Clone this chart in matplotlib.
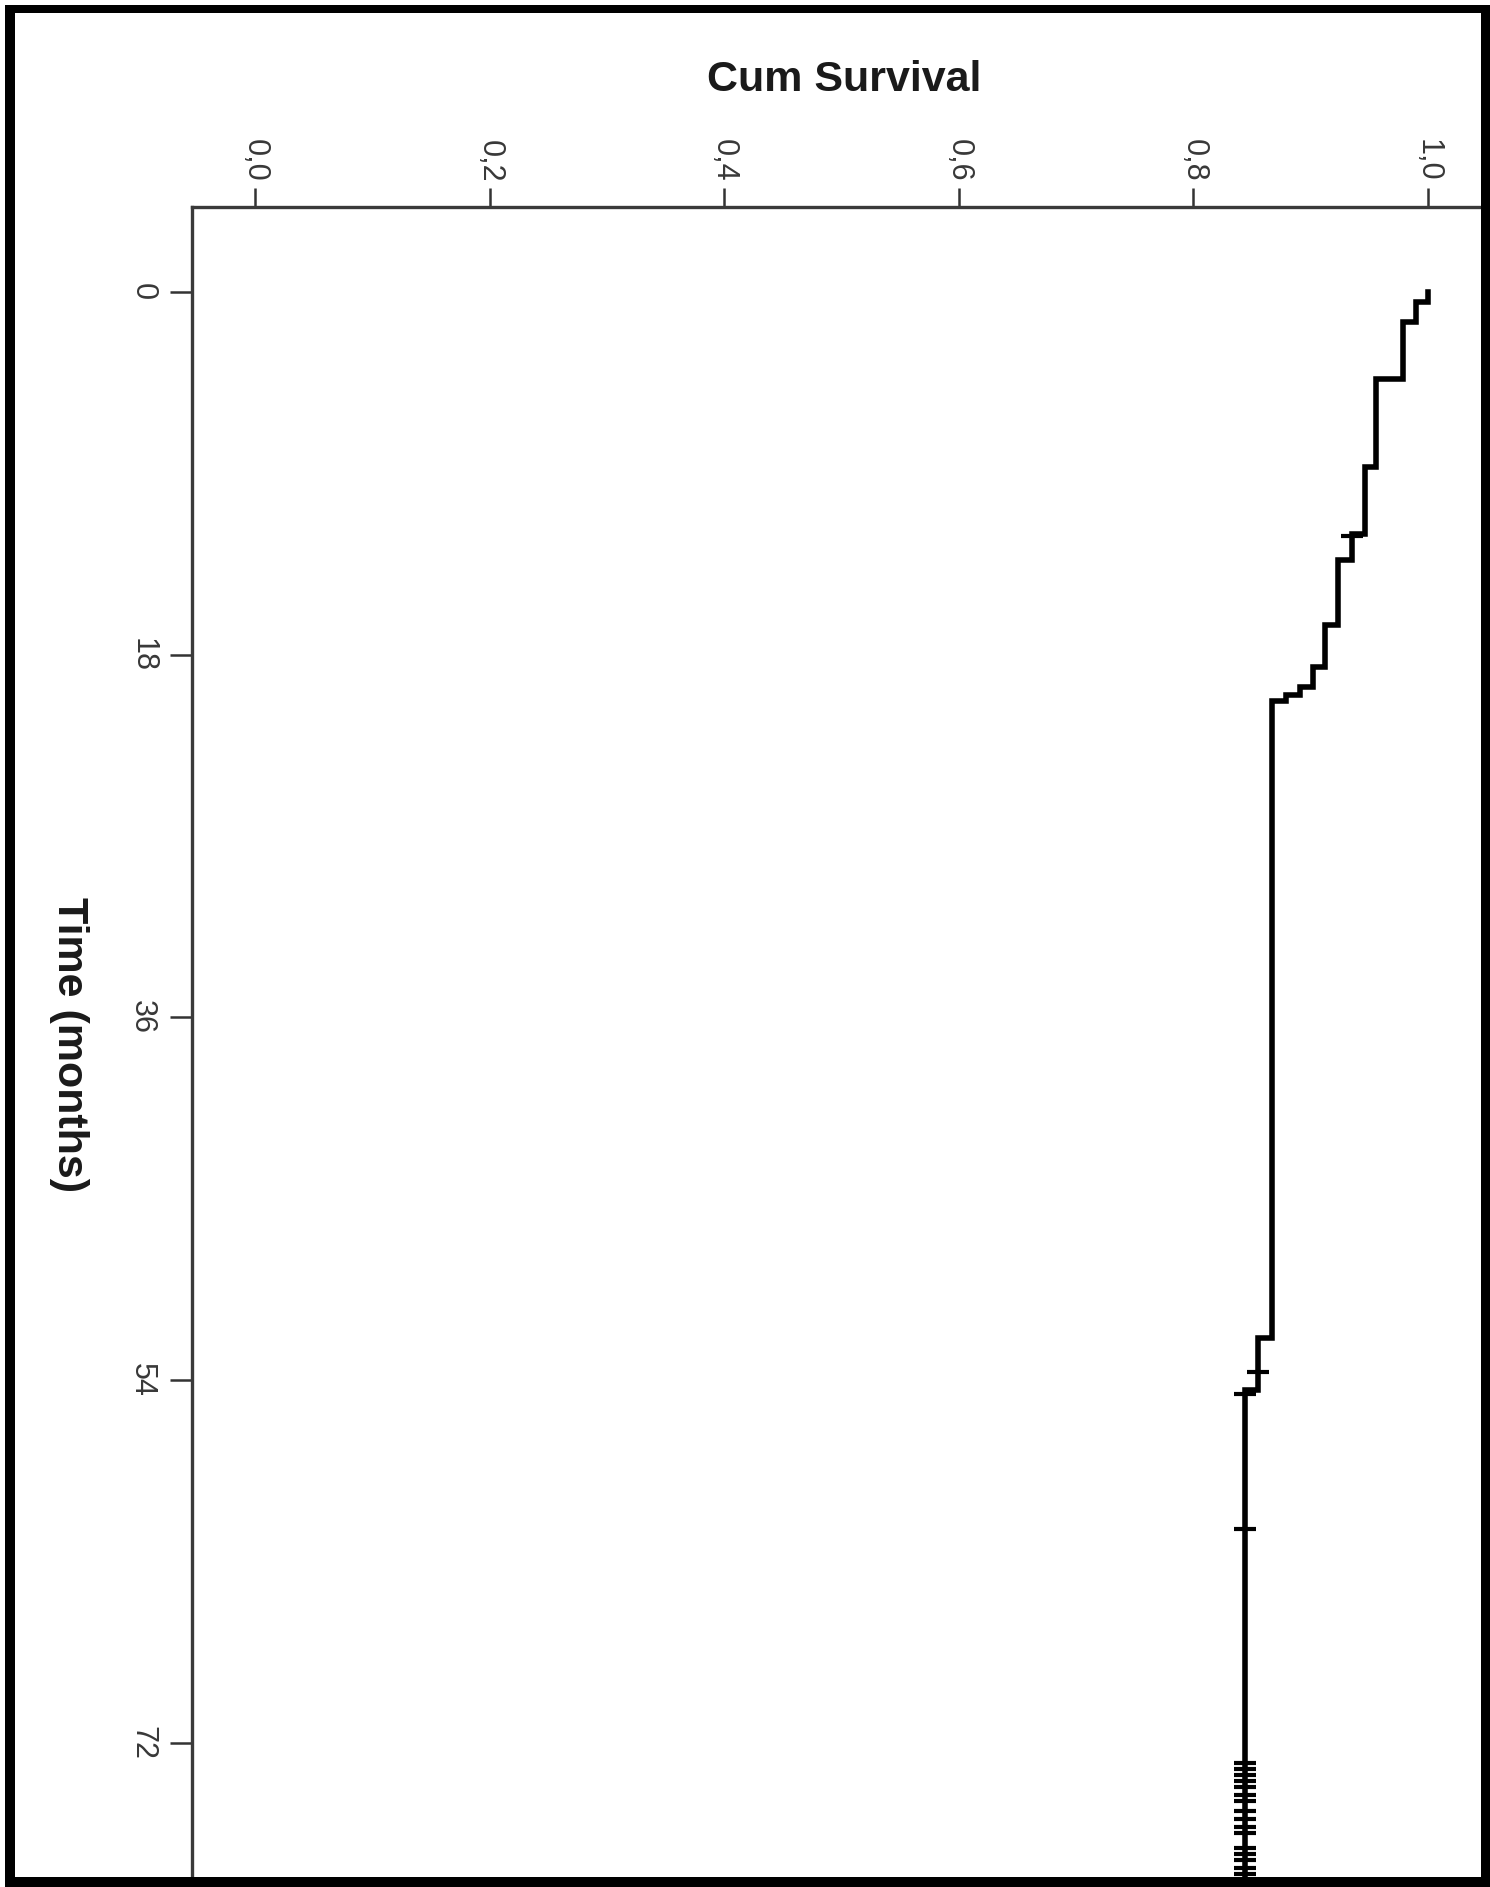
import numpy as np
import matplotlib
matplotlib.use("Agg")
import matplotlib.pyplot as plt
from matplotlib.patches import Rectangle

# ---- data ----
event_times = [0.0, 0.5, 1.5, 4.3, 8.7, 12.0, 13.3, 16.5, 18.6, 19.6, 20.0, 20.3, 51.9, 54.5, 78.7]
survival = [1.0, 0.990, 0.979, 0.956, 0.946, 0.935, 0.923, 0.912, 0.902, 0.891, 0.879, 0.867, 0.855, 0.844, 0.844]
censor_times = [12.1, 53.6, 54.7, 61.4, 73.0, 73.3, 73.6, 73.9, 74.2, 74.6, 74.9,
                75.4, 75.8, 76.2, 76.5, 77.2, 77.5, 77.8, 78.2, 78.5]
time_ticks = [0, 18, 36, 54, 72]
surv_ticks = [0.0, 0.2, 0.4, 0.6, 0.8, 1.0]
surv_tick_labels = ["0,0", "0,2", "0,4", "0,6", "0,8", "1,0"]

plt.rcParams['font.family'] = ['Liberation Sans', 'DejaVu Sans']

W, H = 1490, 1887
fig = plt.figure(figsize=(W / 100, H / 100), dpi=100)
fig.patch.set_facecolor('white')

# axes in pixel geometry
ax_l, ax_r, ax_t, ax_b = 192, 1482, 207, 1877
ax = fig.add_axes([ax_l / W, 1 - ax_b / H, (ax_r - ax_l) / W, (ax_b - ax_t) / H])

# step curve (time runs downward, survival runs to the right)
ax.plot(survival, event_times, drawstyle='steps-pre', color='black', lw=4.0,
        solid_joinstyle='miter', zorder=3)

# censor marks at the survival level of each censored time
et = np.array(event_times)
sv = np.array(survival)
idx = np.searchsorted(et, np.array(censor_times), side='right') - 1
ax.plot(sv[idx], censor_times, linestyle='none', marker='_', markersize=16,
        markeredgewidth=3, color='black', zorder=4)

ax.set_xlim(-0.0537, 1.046)
ax.set_ylim(78.66, -4.22)

ax.xaxis.tick_top()
ax.set_xticks(surv_ticks)
ax.set_xticklabels(surv_tick_labels, rotation=-90, fontsize=22, color='#383838')
ax.set_yticks(time_ticks)
ax.set_yticklabels([str(t) for t in time_ticks], rotation=-90, fontsize=22,
                   color='#383838', va='center')
ax.tick_params(axis='x', length=14, width=1.8, color='#333333', pad=4)
ax.tick_params(axis='y', length=16, width=1.8, color='#333333', pad=9)

for s in ['right', 'bottom']:
    ax.spines[s].set_visible(False)
for s in ['left', 'top']:
    ax.spines[s].set_linewidth(2.4)
    ax.spines[s].set_color('#3a3a3a')

fig.text(844 / W, 1 - 80 / H, "Cum Survival", fontsize=31, fontweight='bold',
         ha='center', va='center', color='#1a1a1a')
fig.text(69 / W, 1 - 1045 / H, "Time (months)", fontsize=31, fontweight='bold',
         rotation=-90, ha='center', va='center', color='#1a1a1a')

# outer black frame
def px_rect(x0, y0, x1, y1):
    r = Rectangle((x0 / W, 1 - y1 / H), (x1 - x0) / W, (y1 - y0) / H,
                  transform=fig.transFigure, facecolor='black', edgecolor='none',
                  zorder=10)
    fig.patches.append(r)

px_rect(5, 5, 1490, 13)      # top
px_rect(5, 5, 15, 1887)      # left
px_rect(1481, 5, 1490, 1887)  # right
px_rect(5, 1877, 1490, 1887)  # bottom

fig.savefig("out.png", dpi=100, facecolor='white')
